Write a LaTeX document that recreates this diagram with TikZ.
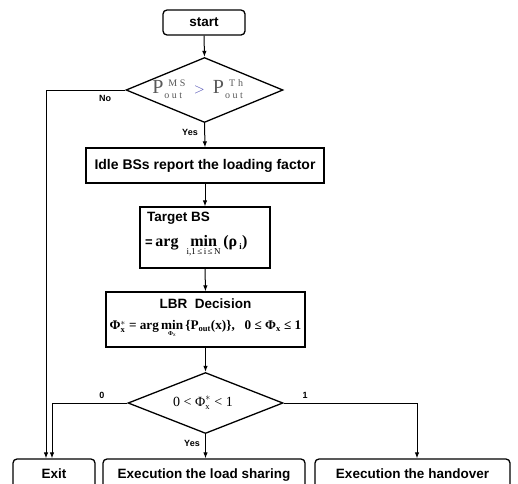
\documentclass[tikz,border=0pt]{standalone}
\usepackage{fontspec}
\setmainfont{Liberation Sans}
\newfontfamily\srf{Liberation Serif}
\usetikzlibrary{shapes.geometric,arrows.meta}
\newcommand\mysm[1]{\mbox{\fontsize{8.5}{8.5}\selectfont #1}}
\newcommand\mysd[1]{\mbox{\fontsize{10}{10}\selectfont #1}}
\begin{document}
\begin{tikzpicture}[x=1pt,y=-1pt,
 box/.style={draw,line width=1.3pt,inner sep=0pt,font=\bfseries\fontsize{13.5}{15}\selectfont},
 rbox/.style={box,rounded corners=4pt},
 dia/.style={draw,diamond,line width=1.3pt,inner sep=0pt},
 arr/.style={line width=1pt,-{Latex[length=6pt,width=4.5pt]}},
 lbl/.style={font=\bfseries\fontsize{9}{10}\selectfont,inner sep=1pt},
 txt/.style={inner sep=0pt}]
\useasboundingbox (0,0) rectangle (518,483);
\clip (0,0) rectangle (518,483);
\node[rbox,minimum width=82pt,minimum height=25pt] (start) at (204,22.5) {start};
\node[dia,minimum width=157pt,minimum height=65pt,aspect=2.4] (d1) at (204.5,90) {};
\node[txt,font=\srf\fontsize{20}{20}\selectfont,text=black!65] (f1) at (198,89)
 {P$^{\kern5pt\mysd{M\ S}}_{\kern1pt\mysd{o\kern2.5pt u\kern2.5pt t}}$\kern8pt{\color{blue!40!gray}\fontsize{15}{15}\selectfont$>$}\kern8pt P$^{\kern5pt\mysd{T\kern3pt h}}_{\kern1pt\mysd{o\kern2.5pt u\kern2.5pt t}}$};
\node[box,minimum width=238pt,minimum height=35pt,font=\bfseries\fontsize{14}{15}\selectfont] (idle) at (205,165.5) {Idle BSs report the loading factor};
\node[box,minimum width=130pt,minimum height=61pt] (tgt) at (205,237.5) {};
\node[txt,anchor=west,font=\bfseries\fontsize{13.5}{15}\selectfont] (tgt1) at (147,218) {Target BS};
\node[txt,anchor=west,font=\srf\bfseries\fontsize{16}{18}\selectfont] (tgt2) at (145,246)
 {{\fontspec{Liberation Sans}\bfseries\fontsize{13}{13}\selectfont =}\,arg\ \ $\mathop{\mbox{min}}\limits_{\mbox{\srf\mdseries\fontsize{9}{9}\selectfont i,1\,≤\,i\,≤\,N}}$\,(ρ$_{\mysm{\ i}}$)};
\node[box,minimum width=199pt,minimum height=55pt] (lbr) at (205.5,319.5) {};
\node[txt,font=\bfseries\fontsize{13.5}{15}\selectfont] (lbr1) at (205.5,304) {LBR\ \ Decision};
\node[txt,font=\srf\bfseries\fontsize{13.2}{15}\selectfont] (lbr2) at (205.5,329)
 {Φ$^{*}_{\mysm{x}}$ = arg\,$\mathop{\mbox{min}}\limits_{\mbox{\fontsize{6}{6}\selectfont Φ$_\mathrm{x}$}}$\,\{P$_{\mysm{out}}$(x)\},\ \ \ 0 ≤ Φ$_{\mysm{x}}$ ≤ 1};
\node[dia,minimum width=155pt,minimum height=61pt,aspect=2.5] (d2) at (205.5,403) {};
\node[txt,font=\srf\fontsize{14}{15}\selectfont] (f2) at (203,403) {0 < Φ$^{*}_{\mysm{x}}$ < 1};
\node[rbox,minimum width=82pt,minimum height=40pt] (exit) at (54,479) {\raisebox{10pt}{Exit}};
\node[rbox,minimum width=202pt,minimum height=40pt] (load) at (204,479) {\raisebox{10pt}{Execution the load sharing}};
\node[rbox,minimum width=195pt,minimum height=40pt] (hand) at (412.5,479) {\raisebox{10pt}{Execution the handover}};
\draw[arr] (start.south) -- (d1.north);
\draw[arr] (d1.south) -- (idle.north);
\draw[arr] (idle.south) -- (tgt.north);
\draw[arr] (tgt.south) -- (lbr.north);
\draw[arr] (lbr.south) -- (d2.north);
\draw[arr] (d2.south) -- (d2.south |- load.north);
\draw[arr] (d1.west) -| ([xshift=-8pt]exit.north);
\draw[arr] (d2.west) -| ([xshift=-2pt]exit.north);
\draw[arr] (d2.east) -| ([xshift=4.5pt]hand.north);
\node[lbl] (lno) at (105,98) {No};
\node[lbl] (lyes1) at (190,132) {Yes};
\node[lbl] (l0) at (102,395) {0};
\node[lbl] (l1) at (305,395) {1};
\node[lbl] (lyes2) at (192,443) {Yes};
\end{tikzpicture}
\end{document}
